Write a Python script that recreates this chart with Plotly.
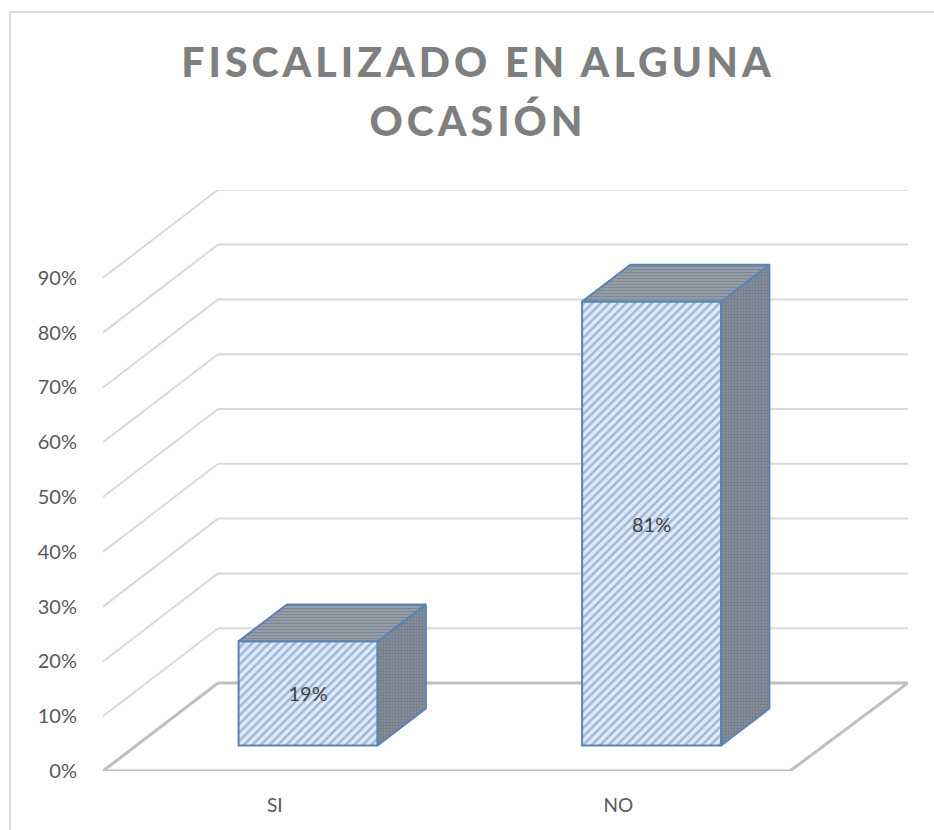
import plotly.graph_objects as go

categories = ["SI", "NO"]
values = [19, 81]
value_labels = ["19%", "81%"]
y_ticks = [0, 10, 20, 30, 40, 50, 60, 70, 80, 90]
y_tick_labels = ["0%", "10%", "20%", "30%", "40%", "50%", "60%", "70%", "80%", "90%"]
title_text = "FISCALIZADO EN ALGUNA<br>OCASIÓN"

W, H = 934, 830
L, R, B, T = 103, 908, 771, 190      # plot box in page pixels
UNIT_X = 343.5                       # pixels per category
UNIT_Y = 5.48                        # pixels per percent
DEPTH_X = 115 / UNIT_X               # full floor depth, in axis units
DEPTH_Y = 88 / UNIT_Y
N = len(categories)
BACK_W = 690 / UNIT_X                # back wall is a touch wider than the front edge

BAR_W = 139 / UNIT_X
BAR_NEAR = 0.29                      # depth at which the bar front sits
BAR_DEEP = 0.42                      # how deep the bar is, as a share of the floor

GRID = "#D9D9D9"
FLOOR = "#BFBFBF"
EDGE = "#5B82B5"
FONT = "Lato"

fig = go.Figure()

# walls: a slanted line and a back line for every tick above the floor, under all traces
for t in y_ticks[1:]:
    fig.add_shape(type="line", xref="x", yref="y", layer="below",
                  x0=0, y0=t, x1=DEPTH_X, y1=t + DEPTH_Y, line=dict(color=GRID, width=2))
    fig.add_shape(type="line", xref="x", yref="y", layer="below",
                  x0=DEPTH_X, y0=t + DEPTH_Y, x1=DEPTH_X + BACK_W, y1=t + DEPTH_Y,
                  line=dict(color=GRID, width=2))
# floor
floor_x = [DEPTH_X, 0, N, DEPTH_X + BACK_W, DEPTH_X]
floor_y = [DEPTH_Y, 0, 0, DEPTH_Y, DEPTH_Y]
for i in range(4):
    fig.add_shape(type="line", xref="x", yref="y", layer="below",
                  x0=floor_x[i], y0=floor_y[i], x1=floor_x[i + 1], y1=floor_y[i + 1],
                  line=dict(color=FLOOR, width=3))

centers = [i + 0.5 + BAR_NEAR * DEPTH_X for i in range(N)]
lift = BAR_NEAR * DEPTH_Y
dx, dy = BAR_DEEP * DEPTH_X, BAR_DEEP * DEPTH_Y

for c, v in zip(centers, values):
    left, right = c - BAR_W / 2, c + BAR_W / 2
    top = lift + v
    # right side face
    fig.add_trace(go.Scatter(
        x=[right, right + dx, right + dx, right, right],
        y=[lift, lift + dy, top + dy, top, lift],
        mode="lines", fill="toself", fillcolor="#6C7885",
        fillpattern=dict(shape=".", fgcolor="#5A6470", bgcolor="#87929E", size=3, solidity=0.5),
        line=dict(color=EDGE, width=2), hoverinfo="skip"))
    # top face
    fig.add_trace(go.Scatter(
        x=[left, left + dx, right + dx, right, left],
        y=[top, top + dy, top + dy, top, top],
        mode="lines", fill="toself", fillcolor="#7C8894",
        fillpattern=dict(shape="-", fgcolor="#5F6B78", bgcolor="#9AA4AF", size=3, solidity=0.5),
        line=dict(color=EDGE, width=2), hoverinfo="skip"))

# front faces
fig.add_trace(go.Bar(
    x=centers, y=values, base=[lift] * N, width=BAR_W,
    text=value_labels, textposition="inside", insidetextanchor="middle",
    constraintext="none", textangle=0,
    textfont=dict(family=FONT, size=20, color="#404040"),
    marker=dict(color="#DCE9F8", opacity=1, line=dict(color=EDGE, width=2),
                pattern=dict(shape="/", fgcolor="#5F7FAE", bgcolor="#DCE9F8", size=6, solidity=0.4)),
    hoverinfo="skip"))

# frame of the chart area: only its left and top edges are in the picture
fig.add_shape(type="line", xref="paper", yref="paper", x0=10 / W, x1=10 / W, y0=0, y1=1 - 12 / H,
              line=dict(color="#D9D9D9", width=2))
fig.add_shape(type="line", xref="paper", yref="paper", x0=10 / W, x1=1, y0=1 - 12 / H, y1=1 - 12 / H,
              line=dict(color="#D9D9D9", width=2))

fig.update_layout(
    width=W, height=H, margin=dict(l=0, r=0, t=0, b=0, pad=0),
    paper_bgcolor="white", plot_bgcolor="white", showlegend=False,
    title=dict(text=title_text, x=478 / W, xanchor="center", y=1 - 77 / H, yanchor="top",
               automargin=False,
               font=dict(family=FONT, size=41, color="#7F7F7F", weight=900)),
    xaxis=dict(domain=[L / W, R / W], range=[0, (R - L) / UNIT_X], tickmode="array",
               tickvals=[i + 0.5 for i in range(N)], ticktext=categories, automargin=False,
               ticks="outside", ticklen=17, tickcolor="rgba(0,0,0,0)", showgrid=False,
               zeroline=False, showline=False,
               tickfont=dict(family=FONT, size=19, color="#595959")),
    yaxis=dict(domain=[1 - B / H, 1 - T / H], range=[0, (B - T) / UNIT_Y], tickmode="array",
               tickvals=y_ticks, ticktext=y_tick_labels, automargin=False,
               ticks="outside", ticklen=21, tickcolor="rgba(0,0,0,0)", showgrid=False,
               zeroline=False, showline=False,
               tickfont=dict(family=FONT, size=20, color="#595959")),
)

fig.write_html("out.html", config={"displayModeBar": False},
               post_script="document.body.style.margin='0';"
               "document.querySelectorAll('.gtitle').forEach(function(t){t.style.letterSpacing='4px';"
               "var l=t.querySelectorAll('tspan.line');if(l.length>1){l[1].setAttribute('dy','59px');}});")
